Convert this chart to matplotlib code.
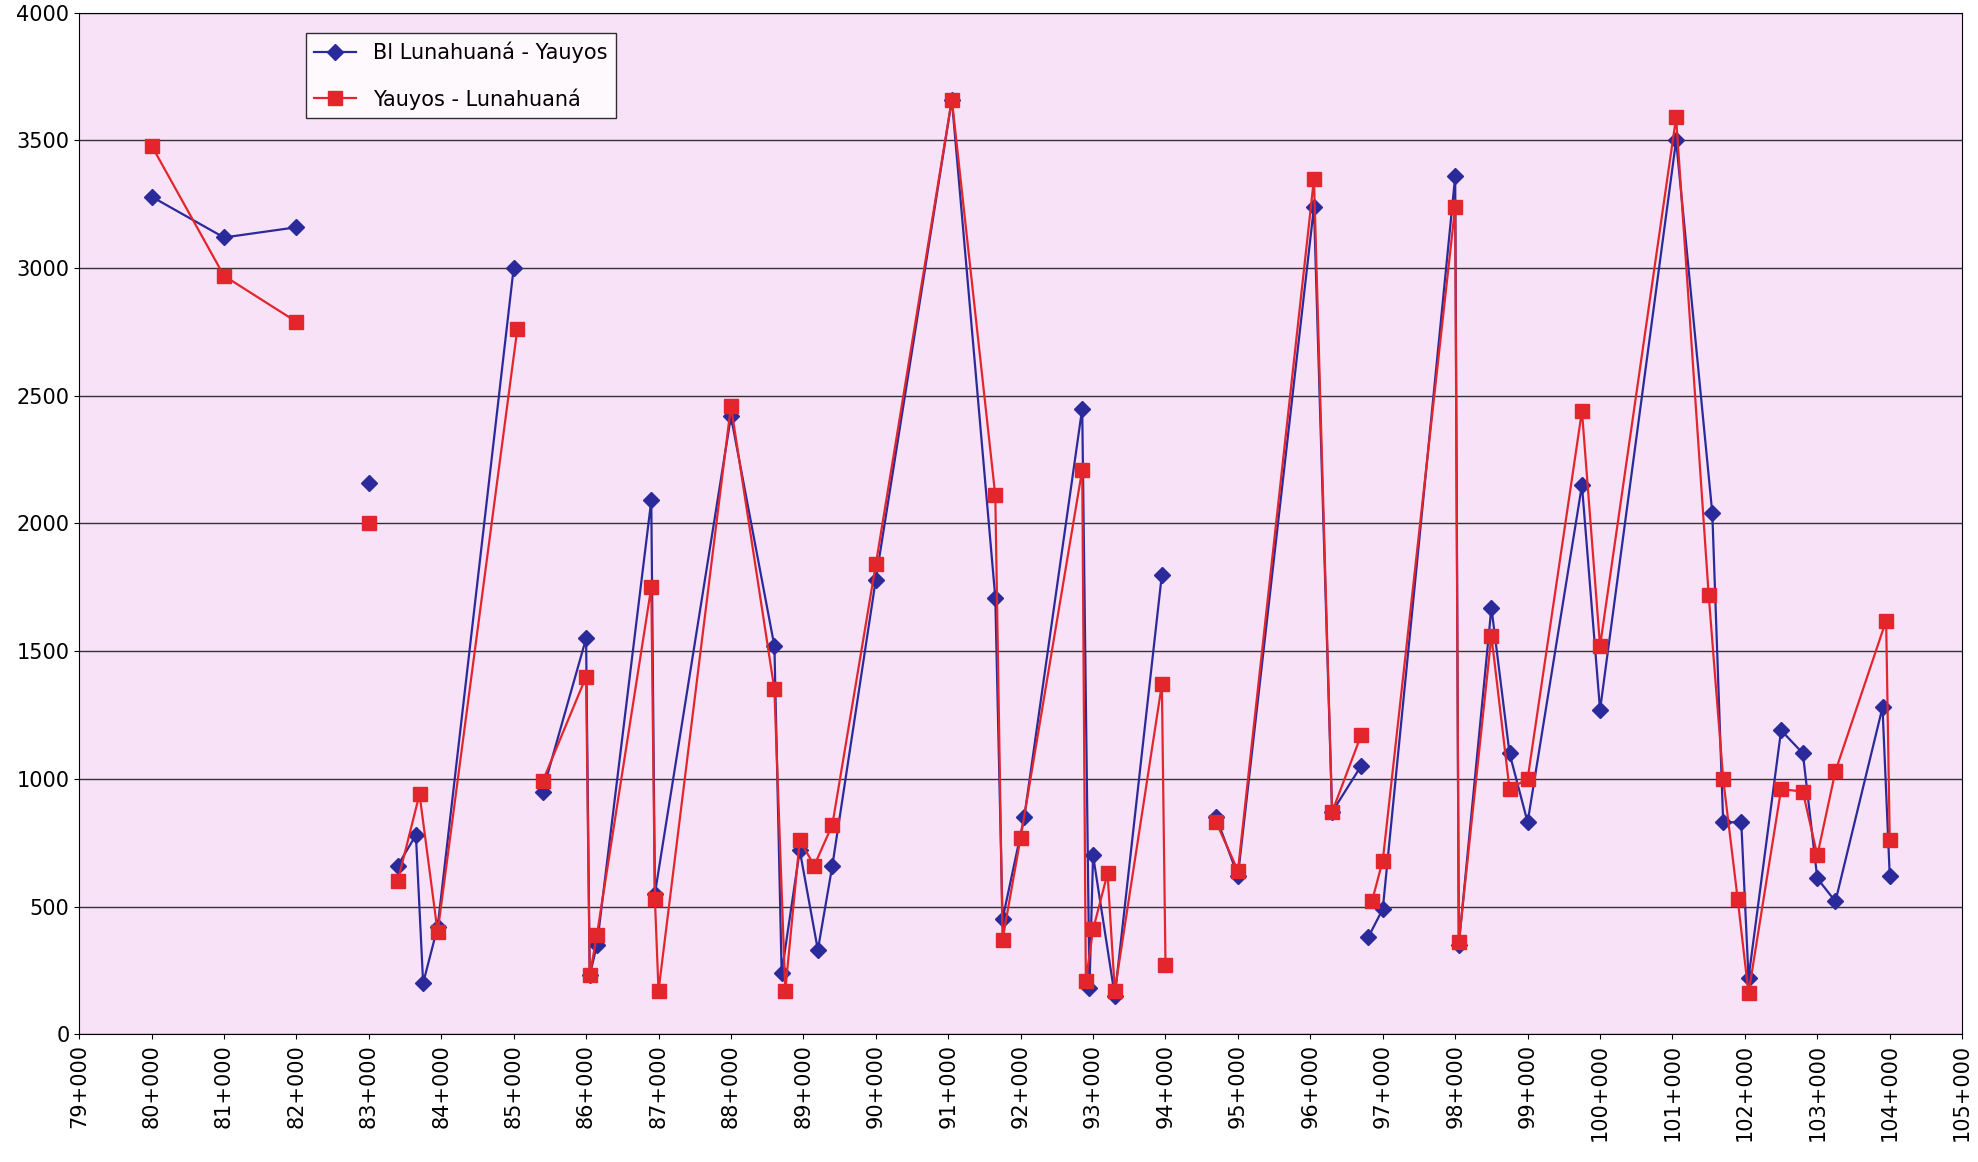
import numpy as np
import matplotlib.pyplot as plt

nan = np.nan
# km position / value pairs (nan = gap in line)
blue_x = [80.0, 81.0, 82.0, nan, 83.0, nan,
          83.4, 83.65, 83.75, 83.95, 85.0, nan,
          85.4, 86.0, 86.05, 86.15, 86.9, 86.95, 88.0, 88.6, 88.7, 88.95, 89.2, 89.4,
          90.0, 91.05, 91.65, 91.75, 92.05, 92.85, 92.95, 93.0, 93.3, 93.95, nan,
          94.7, 95.0, 96.05, 96.3, 96.7, nan,
          96.8, 97.0, 98.0, 98.05, 98.5, 98.75, 99.0, 99.75, 100.0, 101.05, 101.55,
          101.7, 101.95, 102.05, 102.5, 102.8, 103.0, 103.25, 103.9, 104.0]
blue_y = [3280, 3120, 3160, nan, 2160, nan,
          660, 780, 200, 420, 3000, nan,
          950, 1550, 230, 350, 2090, 550, 2420, 1520, 240, 720, 330, 660,
          1780, 3660, 1710, 450, 850, 2450, 180, 700, 150, 1800, nan,
          850, 620, 3240, 870, 1050, nan,
          380, 490, 3360, 350, 1670, 1100, 830, 2150, 1270, 3500, 2040,
          830, 830, 220, 1190, 1100, 610, 520, 1280, 620]

red_x = [80.0, 81.0, 82.0, nan, 83.0, nan,
         83.4, 83.7, 83.95, 85.05, nan,
         85.4, 86.0, 86.05, 86.15, 86.9, 86.95, 87.0, 88.0, 88.6, 88.75, 88.95, 89.15, 89.4,
         90.0, 91.05, 91.65, 91.75, 92.0, 92.85, 92.9, 93.0, 93.2, 93.3, 93.95, 94.0, nan,
         94.7, 95.0, 96.05, 96.3, 96.7, nan,
         96.85, 97.0, 98.0, 98.05, 98.5, 98.75, 99.0, 99.75, 100.0, 101.05, 101.5,
         101.7, 101.9, 102.05, 102.5, 102.8, 103.0, 103.25, 103.95, 104.0]
red_y = [3480, 2970, 2790, nan, 2000, nan,
         600, 940, 400, 2760, nan,
         990, 1400, 230, 390, 1750, 530, 170, 2460, 1350, 170, 760, 660, 820,
         1840, 3660, 2110, 370, 770, 2210, 210, 410, 630, 170, 1370, 270, nan,
         830, 640, 3350, 870, 1170, nan,
         520, 680, 3240, 360, 1560, 960, 1000, 2440, 1520, 3590, 1720,
         1000, 530, 160, 960, 950, 700, 1030, 1620, 760]

stations = list(range(79, 106))
tick_labels = [f"{k}+000" for k in stations]

fig = plt.figure(figsize=(19.78, 11.62), dpi=100)
ax = fig.add_axes([0.04, 0.11, 0.952, 0.879])
ax.set_facecolor('#F8E2F8')

ax.plot(blue_x, blue_y, color='#2A2A9A', lw=1.6, marker='D', ms=8, label='Bl Lunahuaná - Yauyos')
ax.plot(red_x, red_y, color='#E2262C', lw=1.6, marker='s', ms=10, label='Yauyos - Lunahuaná')

ax.set_xlim(79, 105)
ax.set_ylim(0, 4000)
ax.set_xticks(stations)
ax.set_xticklabels(tick_labels, rotation=90, fontsize=15)
ax.set_yticks(range(0, 4001, 500))
ax.tick_params(axis='y', labelsize=15)
ax.yaxis.grid(True, color='#333333', lw=1)
ax.set_axisbelow(True)

leg = ax.legend(loc='upper left', bbox_to_anchor=(0.115, 0.99), fontsize=15,
                frameon=True, fancybox=False, edgecolor='black', labelspacing=1.2)
leg.get_frame().set_facecolor('white')

plt.savefig('out.png')
